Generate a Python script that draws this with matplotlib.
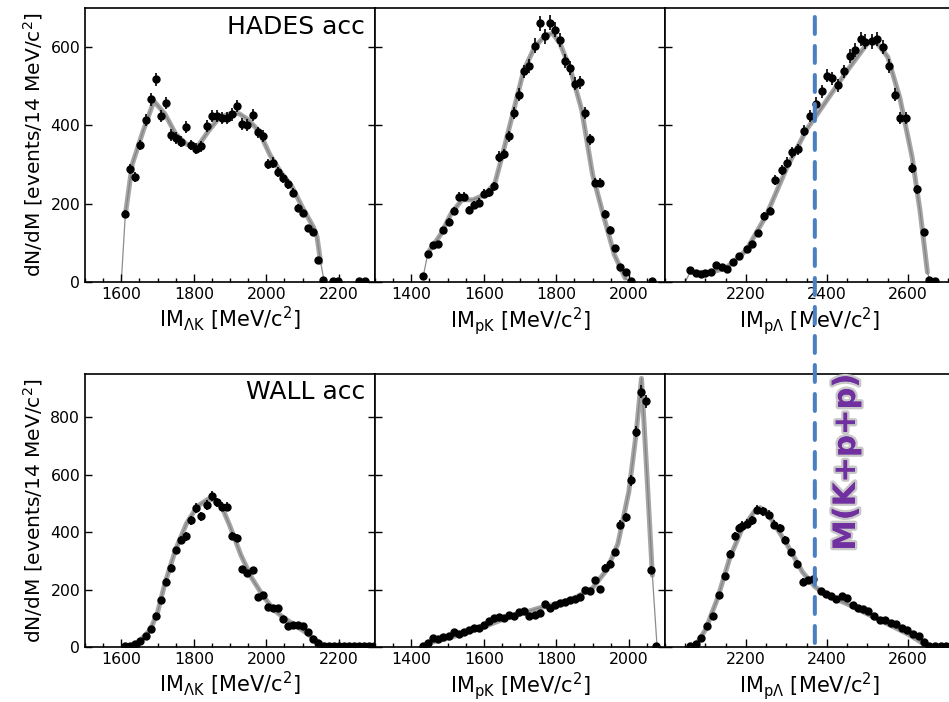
import numpy as np
import matplotlib
matplotlib.use("Agg")
import matplotlib.pyplot as plt
from matplotlib.patches import ConnectionPatch
from matplotlib.ticker import MultipleLocator, FixedLocator
import matplotlib.patheffects as pe

plt.rcParams['font.family'] = ['DejaVu Sans']
plt.rcParams['mathtext.fontset'] = 'dejavusans'

# ---- HADES acceptance, Lambda-K invariant mass ----
hades_lk_x = [1611, 1625, 1639, 1653, 1667, 1681, 1695, 1709, 1723, 1737, 1751, 1765,
              1779, 1793, 1807, 1821, 1836, 1850, 1864, 1878, 1892, 1906, 1920, 1934,
              1948, 1962, 1976, 1990, 2004, 2018, 2032, 2046, 2060, 2074, 2088, 2102,
              2116, 2130, 2144, 2157, 2185, 2199, 2255, 2271]
hades_lk_y = [173, 288, 268, 350, 415, 467, 518, 423, 457, 376, 368, 358,
              396, 350, 340, 347, 398, 423, 423, 420, 418, 428, 450, 403,
              402, 427, 382, 373, 302, 305, 280, 265, 250, 228, 188, 175,
              137, 127, 56, 6, 2, 2, 2, 2]
hades_lk_mx = [1600, 1611, 1630, 1660, 1690, 1720, 1750, 1780, 1810, 1840, 1870, 1900,
               1925, 1950, 1980, 2010, 2040, 2070, 2100, 2130, 2140, 2150, 2160]
hades_lk_my = [0, 170, 300, 385, 462, 430, 378, 352, 345, 385, 420, 430,
               430, 415, 385, 325, 280, 245, 190, 140, 115, 50, 0]

# ---- HADES acceptance, p-K invariant mass ----
hades_pk_x = [1433, 1446, 1460, 1474, 1488, 1503, 1517, 1531, 1545, 1559, 1573, 1587,
              1601, 1615, 1629, 1643, 1657, 1670, 1684, 1698, 1712, 1726, 1740, 1754,
              1768, 1782, 1796, 1810, 1824, 1838, 1852, 1866, 1880, 1893, 1907, 1921,
              1935, 1949, 1963, 1977, 1991, 2005, 2063]
hades_pk_y = [15, 71, 94, 97, 132, 154, 181, 218, 218, 185, 197, 203,
              226, 229, 245, 320, 327, 372, 432, 479, 538, 551, 604, 661,
              628, 662, 645, 618, 564, 547, 507, 510, 432, 365, 254, 254,
              174, 134, 88, 38, 26, 3, 3]
hades_pk_mx = [1433, 1446, 1480, 1510, 1540, 1570, 1600, 1630, 1650, 1680, 1710, 1740,
               1770, 1790, 1810, 1840, 1870, 1900, 1930, 1960, 1990, 2003]
hades_pk_my = [15, 75, 120, 175, 210, 210, 222, 250, 320, 430, 540, 600,
               630, 635, 610, 540, 440, 275, 170, 70, 10, 0]

# ---- HADES acceptance, p-Lambda invariant mass ----
hades_pl_x = [2062, 2076, 2088, 2100, 2113, 2127, 2140, 2154, 2168, 2183, 2203, 2216,
              2230, 2244, 2259, 2272, 2288, 2302, 2314, 2329, 2343, 2358, 2372, 2387,
              2399, 2413, 2428, 2442, 2457, 2469, 2483, 2495, 2510, 2524, 2539, 2553,
              2568, 2580, 2594, 2609, 2623, 2640, 2653, 2667]
hades_pl_y = [30, 23, 20, 23, 26, 43, 38, 32, 51, 66, 85, 96,
              124, 168, 182, 261, 286, 305, 331, 339, 387, 425, 456, 487,
              527, 520, 503, 538, 577, 592, 621, 614, 615, 621, 601, 551,
              479, 419, 419, 291, 237, 128, 6, 3]
hades_pl_mx = [2050, 2062, 2100, 2150, 2200, 2250, 2300, 2350, 2400, 2450, 2500, 2520,
               2550, 2580, 2610, 2630, 2648, 2655]
hades_pl_my = [0, 25, 22, 35, 80, 170, 290, 390, 465, 540, 610, 615,
               575, 470, 320, 180, 25, 0]

# ---- WALL acceptance, Lambda-K invariant mass ----
wall_lk_x = [1611, 1625, 1639, 1653, 1667, 1681, 1695, 1709, 1723, 1737, 1751, 1765,
             1779, 1793, 1807, 1821, 1836, 1850, 1864, 1878, 1892, 1906, 1920, 1934,
             1948, 1962, 1976, 1990, 2004, 2018, 2032, 2046, 2060, 2074, 2088, 2102,
             2116, 2130, 2144, 2158, 2172, 2186, 2200, 2214, 2228, 2242, 2256, 2270,
             2284, 2298]
wall_lk_y = [2, 5, 12, 22, 39, 63, 109, 165, 228, 275, 336, 373,
             385, 441, 483, 455, 495, 526, 503, 489, 489, 387, 379, 271,
             257, 267, 173, 182, 141, 136, 136, 97, 74, 78, 75, 72,
             51, 28, 14, 5, 3, 3, 4, 4, 3, 4, 3, 3,
             3, 3]
wall_lk_mx = [1610, 1650, 1680, 1700, 1720, 1750, 1780, 1810, 1840, 1860, 1880, 1900,
              1930, 1960, 1990, 2020, 2050, 2080, 2110, 2140, 2160, 2200]
wall_lk_my = [0, 20, 60, 120, 220, 340, 430, 490, 515, 510, 480, 420,
              320, 240, 180, 130, 100, 75, 50, 20, 5, 0]

# ---- WALL acceptance, p-K invariant mass ----
wall_pk_x = [1433, 1446, 1460, 1474, 1488, 1503, 1517, 1531, 1545, 1559, 1573, 1587,
             1601, 1615, 1629, 1643, 1657, 1670, 1684, 1698, 1712, 1726, 1740, 1754,
             1768, 1782, 1796, 1810, 1824, 1838, 1852, 1866, 1880, 1893, 1907, 1921,
             1935, 1949, 1963, 1977, 1991, 2005, 2019, 2033, 2047, 2061, 2075]
wall_pk_y = [2, 14, 31, 28, 35, 39, 51, 46, 51, 58, 66, 66,
             78, 89, 101, 104, 101, 112, 109, 121, 124, 109, 112, 118,
             150, 136, 147, 153, 155, 162, 167, 174, 197, 194, 232, 202,
             275, 290, 329, 426, 452, 580, 750, 889, 855, 269, 2]
wall_pk_mx = [1420, 1450, 1500, 1550, 1600, 1650, 1700, 1750, 1800, 1850, 1900, 1940,
              1970, 2000, 2020, 2035, 2050, 2065, 2078]
wall_pk_my = [0, 15, 30, 50, 70, 95, 115, 135, 150, 170, 205, 270,
              360, 540, 740, 935, 600, 250, 0]

# ---- WALL acceptance, p-Lambda invariant mass ----
wall_pl_x = [2061, 2076, 2090, 2105, 2119, 2133, 2147, 2160, 2174, 2183, 2191, 2203,
             2216, 2228, 2242, 2257, 2269, 2283, 2296, 2310, 2327, 2341, 2353, 2365,
             2386, 2397, 2409, 2423, 2438, 2450, 2464, 2477, 2489, 2502, 2516, 2530,
             2543, 2557, 2571, 2584, 2598, 2612, 2626, 2640, 2653, 2667, 2681, 2693]
wall_pl_y = [2, 12, 31, 74, 107, 182, 246, 325, 387, 414, 422, 429,
             441, 478, 472, 460, 426, 414, 373, 329, 290, 228, 232, 237,
             194, 186, 176, 167, 176, 170, 147, 136, 132, 124, 107, 95,
             95, 83, 81, 66, 58, 46, 37, 16, 5, 2, 5, 5]
wall_pl_mx = [2050, 2080, 2100, 2130, 2160, 2190, 2220, 2235, 2260, 2300, 2340, 2370,
              2400, 2450, 2500, 2550, 2600, 2640, 2660]
wall_pl_my = [0, 15, 60, 170, 310, 410, 470, 485, 450, 360, 260, 210,
              180, 150, 115, 80, 45, 10, 0]

kpp_mass = 2370  # M(K+p+p) threshold

xlims = [(1500, 2300), (1300, 2100), (2000, 2716)]
xmajors = [[1600, 1800, 2000, 2200], [1400, 1600, 1800, 2000], [2200, 2400, 2600]]
xlabels = [r'IM$_{\mathrm{\Lambda K}}$ [MeV/c$^{2}$]',
           r'IM$_{\mathrm{pK}}$ [MeV/c$^{2}$]',
           r'IM$_{\mathrm{p\Lambda}}$ [MeV/c$^{2}$]']

rows = [
    [(hades_lk_x, hades_lk_y, hades_lk_mx, hades_lk_my),
     (hades_pk_x, hades_pk_y, hades_pk_mx, hades_pk_my),
     (hades_pl_x, hades_pl_y, hades_pl_mx, hades_pl_my)],
    [(wall_lk_x, wall_lk_y, wall_lk_mx, wall_lk_my),
     (wall_pk_x, wall_pk_y, wall_pk_mx, wall_pk_my),
     (wall_pl_x, wall_pl_y, wall_pl_mx, wall_pl_my)],
]
row_ylim = [700, 950]
row_bottom = [0.5983, 0.0783]
row_height = [0.3903, 0.3889]
col_left = [0.0896, 0.3952, 0.7007]
col_width = 0.3056

fig = plt.figure(figsize=(9.49, 7.02), dpi=100)
axes = []
for r, row in enumerate(rows):
    arow = []
    for c, (x, y, mx, my) in enumerate(row):
        ax = fig.add_axes([col_left[c], row_bottom[r], col_width, row_height[r]])
        y = np.array(y, dtype=float)
        # model: thin line everywhere plus a grey band
        ax.plot(mx, my, color='0.55', lw=0.9, zorder=1)
        ax.plot(mx[1:-1], my[1:-1], color='0.5', lw=3.6, alpha=0.7,
                solid_capstyle='round', zorder=1)
        ax.errorbar(x, y, yerr=0.75 * np.sqrt(y), fmt='o', color='black',
                    ms=5, elinewidth=1.2, capsize=0, zorder=3)
        ax.set_xlim(*xlims[c])
        ax.set_ylim(0, row_ylim[r])
        ax.xaxis.set_major_locator(FixedLocator(xmajors[c]))
        ax.xaxis.set_minor_locator(MultipleLocator(50))
        ax.yaxis.set_major_locator(MultipleLocator(200))
        ax.tick_params(axis='both', which='both', direction='in', top=False,
                       right=(c < 2), labelsize=11.3)
        ax.tick_params(axis='x', which='major', length=6, width=1)
        ax.tick_params(axis='x', which='minor', length=3, width=1)
        ax.tick_params(axis='y', which='major', length=5, width=1)
        ax.set_xlabel(xlabels[c], fontsize=15, labelpad=2)
        if c == 0:
            ax.set_ylabel(r'dN/dM [events/14 MeV/c$^{2}$]', fontsize=14.5, labelpad=4)
        else:
            ax.tick_params(axis='y', labelleft=False)
        for s in ax.spines.values():
            s.set_linewidth(1.2)
        arow.append(ax)
    axes.append(arow)

axes[0][0].text(0.965, 0.93, 'HADES acc', transform=axes[0][0].transAxes,
                ha='right', va='center', fontsize=18)
axes[1][0].text(0.965, 0.935, 'WALL acc', transform=axes[1][0].transAxes,
                ha='right', va='center', fontsize=18)

# dashed threshold line spanning both rows
con = ConnectionPatch(xyA=(kpp_mass, 677), coordsA=axes[0][2].transData,
                      xyB=(kpp_mass, 0), coordsB=axes[1][2].transData,
                      color='#4a7fc1', lw=2.9, linestyle=(0, (4.2, 3)), zorder=5)
fig.add_artist(con)

axes[1][2].text(kpp_mass + 78, 643, 'M(K+p+p)', rotation=90, ha='center', va='center',
                fontsize=22, fontweight='heavy', color='#7030a0', zorder=6,
                path_effects=[pe.withStroke(linewidth=3.5, foreground='#c8c8c8'), pe.Normal()])

fig.savefig('out.png', dpi=100)
